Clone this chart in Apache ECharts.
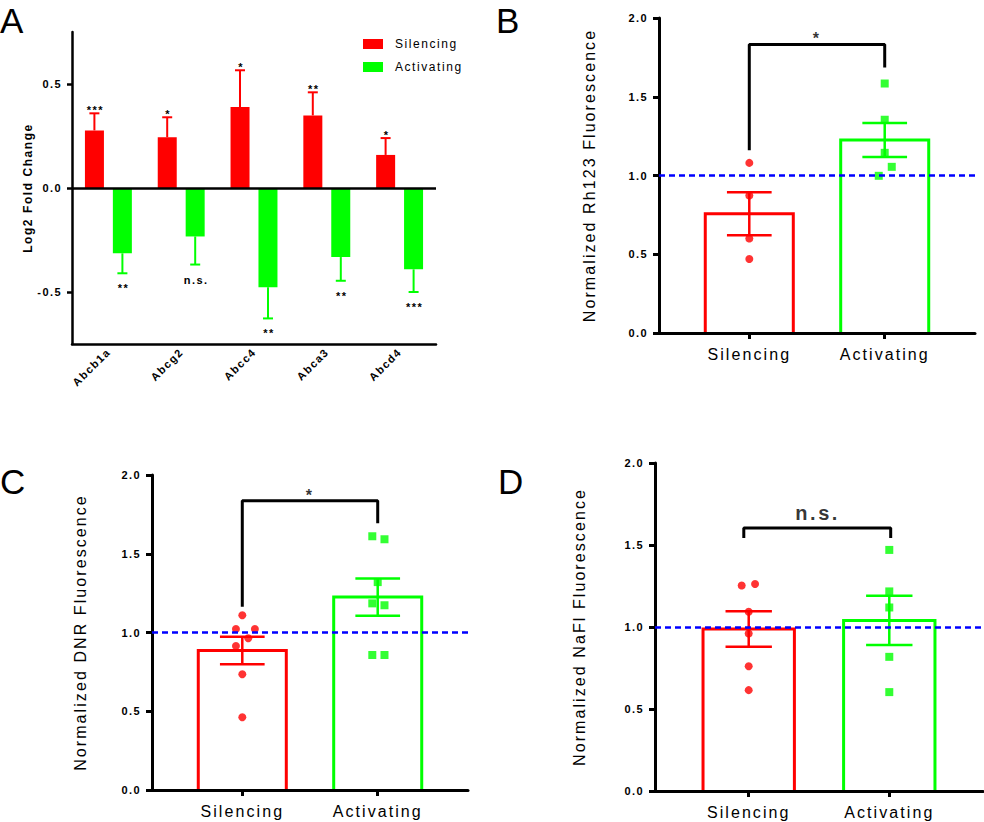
<!DOCTYPE html>
<html>
<head>
<meta charset="utf-8">
<script src="https://cdn.jsdelivr.net/npm/echarts@6/dist/echarts.min.js"></script>
<style>
  html, body { margin: 0; padding: 0; background: #fff; }
  #chart { width: 984px; height: 822px; }
  #chart svg text { letter-spacing: 0.13em; }
</style>
</head>
<body>
<div id="chart"></div>
<script>
// panel A: log2 fold change per transporter
const genes = ['Abcb1a', 'Abcg2', 'Abcc4', 'Abca3', 'Abcd4'];
const silencingFold = [0.277, 0.244, 0.389, 0.349, 0.159];
const silencingFoldErr = [0.359, 0.340, 0.566, 0.460, 0.240];
const activatingFold = [-0.314, -0.233, -0.477, -0.332, -0.391];
const activatingFoldErr = [-0.410, -0.368, -0.627, -0.446, -0.500];
const silencingSig = ['***', '*', '*', '**', '*'];
const activatingSig = ['**', 'n.s.', '**', '**', '***'];
const foldTicks = [-0.5, 0, 0.5];

// panels B-D: groups sit at x = 1 and x = 2
const groups = ['Silencing', 'Activating'];

const rhMean = [0.757, 1.225];
const rhSem = [0.136, 0.108];
const rhSilencing = [[1, 1.08], [1, 0.873], [1, 0.60], [1, 0.47]];
const rhActivating = [[2, 1.584], [2, 1.354], [2, 1.144], [2.052, 1.055], [1.956, 0.998]];
const rhBracket = [[1, 1.16], [1, 1.831], [2, 1.831], [2, 1.685]];
const rhSig = [[1.5, 1.867, '*']];

const dnrMean = [0.886, 1.225];
const dnrSem = [0.087, 0.118];
const dnrSilencing = [[1, 1.11], [0.953, 1.022], [1.093, 1.022], [1.044, 0.963], [0.953, 0.914], [1, 0.735], [1, 0.462]];
const dnrActivating = [[1.96, 1.611], [2.05, 1.592], [2, 1.32], [1.96, 1.185], [2.05, 1.173], [1.96, 0.857], [2.05, 0.857]];
const dnrBracket = [[1, 1.164], [1, 1.837], [2, 1.837], [2, 1.693]];
const dnrSig = [[1.5, 1.873, '*']];

const naflMean = [0.988, 1.04];
const naflSem = [0.108, 0.15];
const naflSilencing = [[0.95, 1.253], [1.045, 1.262], [1, 1.093], [1, 0.96], [1, 0.761], [1, 0.615]];
const naflActivating = [[2, 1.47], [2, 1.217], [2, 1.119], [2, 0.818], [2, 0.603]];
const naflBracket = [[0.965, 1.543], [0.965, 1.604], [2.01, 1.604], [2.01, 1.543]];
const naflSig = [[1.49, 1.697, 'n.s.']];

const RED = '#ff0000';
const GREEN = '#00ff00';
const FONT = 'Liberation Sans';

const chart = echarts.init(document.getElementById('chart'), null, { renderer: 'svg' });

function foldErr(dx, sig, up) {
  return function (params, api) {
    const i = api.value(0);
    const base = api.coord([i, api.value(1)]);
    const end = api.coord([i, api.value(2)]);
    const x = base[0] + dx;
    const color = api.visual('color');
    return {
      type: 'group',
      children: [
        { type: 'line', shape: { x1: x, y1: base[1], x2: x, y2: end[1] }, style: { stroke: color, lineWidth: 2 } },
        { type: 'line', shape: { x1: x - 5, y1: end[1], x2: x + 5, y2: end[1] }, style: { stroke: color, lineWidth: 2 } },
        {
          type: 'text', x: x + 1, y: up ? end[1] - 3 : end[1] + 15,
          style: { text: sig[params.dataIndex], align: 'center', verticalAlign: 'middle', fill: '#000', font: 'bold 11px "' + FONT + '"' }
        }
      ]
    };
  };
}

function outlineBar(params, api) {
  const top = api.coord([api.value(0), api.value(1)]);
  const bot = api.coord([api.value(0), 0]);
  const hw = api.size([0.65, 0])[0] / 2;
  return {
    type: 'polyline',
    shape: { points: [[top[0] - hw, bot[1]], [top[0] - hw, top[1]], [top[0] + hw, top[1]], [top[0] + hw, bot[1]]] },
    style: { stroke: api.visual('color'), fill: 'none', lineWidth: 3 }
  };
}

function semBar(params, api) {
  const m = api.value(1), s = api.value(2);
  const hi = api.coord([api.value(0), m + s]);
  const lo = api.coord([api.value(0), m - s]);
  const hw = api.size([0.165, 0])[0];
  const st = { stroke: api.visual('color'), lineWidth: 2.5 };
  return {
    type: 'group',
    children: [
      { type: 'line', shape: { x1: hi[0], y1: hi[1], x2: lo[0], y2: lo[1] }, style: st },
      { type: 'line', shape: { x1: hi[0] - hw, y1: hi[1], x2: hi[0] + hw, y2: hi[1] }, style: st },
      { type: 'line', shape: { x1: lo[0] - hw, y1: lo[1], x2: lo[0] + hw, y2: lo[1] }, style: st }
    ]
  };
}

const panels = [
  { grid: { left: 659, top: 18, width: 316, height: 315 }, name: 'Normalized Rh123 Fluorescence', gap: 62,
    mean: rhMean, sem: rhSem, sil: rhSilencing, act: rhActivating, bracket: rhBracket, sig: rhSig, sigSize: 16 },
  { grid: { left: 152, top: 475, width: 316, height: 315 }, name: 'Normalized DNR Fluorescence', gap: 64,
    mean: dnrMean, sem: dnrSem, sil: dnrSilencing, act: dnrActivating, bracket: dnrBracket, sig: dnrSig, sigSize: 16 },
  { grid: { left: 655, top: 463, width: 328, height: 328 }, name: 'Normalized NaFl Fluorescence', gap: 68,
    mean: naflMean, sem: naflSem, sil: naflSilencing, act: naflActivating, bracket: naflBracket, sig: naflSig, sigSize: 20 }
];

const axisLine = { lineStyle: { color: '#000', width: 3 } };

const grids = [{ left: 72, top: 32, width: 364, height: 312 }].concat(panels.map(p => p.grid));

const xAxes = [{
  type: 'category', gridIndex: 0, data: genes, z: 5,
  axisLine: { onZero: false, lineStyle: { color: '#000', width: 2.5 } },
  axisTick: { alignWithLabel: true, length: 5, lineStyle: { color: '#000', width: 2.5 } },
  axisLabel: { interval: 0, rotate: 45, margin: 6, color: '#000', fontWeight: 'bold', fontSize: 11, fontFamily: FONT }
}];
const yAxes = [{
  type: 'value', gridIndex: 0, min: -0.75, max: 0.75,
  name: 'Log2 Fold Change', nameLocation: 'middle', nameGap: 38,
  nameTextStyle: { color: '#000', fontWeight: 'bold', fontSize: 12, fontFamily: FONT },
  axisLine: { show: true, lineStyle: { color: '#000', width: 2.5 } },
  axisTick: { show: true, length: 5, customValues: foldTicks, lineStyle: { color: '#000', width: 2.5 } },
  axisLabel: { customValues: foldTicks, margin: 10, color: '#000', fontWeight: 'bold', fontSize: 11, fontFamily: FONT,
    formatter: v => v.toFixed(1) },
  splitLine: { show: false }
}];

const series = [
  { name: 'Silencing', type: 'bar', xAxisIndex: 0, yAxisIndex: 0, data: silencingFold, barWidth: 19, barGap: '47%',
    itemStyle: { color: RED },
    markLine: { silent: true, symbol: ['none', 'none'], label: { show: false },
      lineStyle: { color: '#000', type: 'solid', width: 2.5 }, data: [{ yAxis: 0 }] } },
  { name: 'Activating', type: 'bar', xAxisIndex: 0, yAxisIndex: 0, data: activatingFold, barWidth: 19,
    itemStyle: { color: GREEN } },
  { type: 'custom', xAxisIndex: 0, yAxisIndex: 0, itemStyle: { color: RED },
    data: genes.map((g, i) => [i, silencingFold[i], silencingFoldErr[i]]),
    renderItem: foldErr(-14, silencingSig, true) },
  { type: 'custom', xAxisIndex: 0, yAxisIndex: 0, itemStyle: { color: GREEN },
    data: genes.map((g, i) => [i, activatingFold[i], activatingFoldErr[i]]),
    renderItem: foldErr(14, activatingSig, false) }
];

panels.forEach((p, k) => {
  const idx = k + 1;
  xAxes.push({
    type: 'value', gridIndex: idx, min: 1 / 3, max: 8 / 3, z: 5,
    axisLine: axisLine,
    axisTick: { show: true, length: 6, customValues: [1, 2], lineStyle: { color: '#000', width: 3 } },
    axisLabel: { customValues: [1, 2], margin: 13, color: '#000', fontSize: 16, fontFamily: FONT,
      formatter: v => groups[Math.round(v) - 1] },
    splitLine: { show: false }
  });
  yAxes.push({
    type: 'value', gridIndex: idx, min: 0, max: 2, interval: 0.5,
    name: p.name, nameLocation: 'middle', nameGap: p.gap,
    nameTextStyle: { color: '#000', fontSize: 16, fontFamily: FONT },
    axisLine: { show: true, lineStyle: { color: '#000', width: 3 } },
    axisTick: { show: true, length: 6, lineStyle: { color: '#000', width: 3 } },
    axisLabel: { margin: 11, color: '#000', fontWeight: 'bold', fontSize: 11, fontFamily: FONT,
      formatter: v => v.toFixed(1) },
    splitLine: { show: false }
  });
  const ax = { xAxisIndex: idx, yAxisIndex: idx };
  const colored = (i) => ({ itemStyle: { color: i === 0 ? RED : GREEN } });
  series.push(
    Object.assign({ type: 'custom', renderItem: outlineBar,
      data: groups.map((g, i) => Object.assign({ value: [i + 1, p.mean[i], p.sem[i]] }, colored(i))) }, ax),
    Object.assign({ type: 'scatter', symbol: 'circle', symbolSize: 8, data: p.sil, itemStyle: { color: RED },
      markLine: { silent: true, symbol: ['none', 'none'], label: { show: false },
        lineStyle: { color: '#0000ff', type: [6, 4], width: 2.5 }, data: [{ yAxis: 1 }] } }, ax),
    Object.assign({ type: 'scatter', symbol: 'rect', symbolSize: 8, data: p.act, itemStyle: { color: GREEN } }, ax),
    Object.assign({ type: 'custom', renderItem: semBar,
      data: groups.map((g, i) => Object.assign({ value: [i + 1, p.mean[i], p.sem[i]] }, colored(i))) }, ax),
    Object.assign({ type: 'line', data: p.bracket, symbol: 'none', lineStyle: { color: '#000', width: 3 } }, ax),
    Object.assign({ type: 'scatter', data: p.sig, symbolSize: 0,
      label: { show: true, position: 'inside', formatter: d => d.value[2], color: '#000',
        fontWeight: 'bold', fontSize: p.sigSize, fontFamily: FONT } }, ax)
  );
});

const letterStyle = { color: '#000', fontSize: 35, lineHeight: 40, fontWeight: 'normal', fontFamily: FONT };

chart.setOption({
  animation: false,
  backgroundColor: '#fff',
  title: [
    { text: 'A', left: 0, top: 0, padding: 0, textStyle: letterStyle },
    { text: 'B', left: 496, top: 0, padding: 0, textStyle: letterStyle },
    { text: 'C', left: 0, top: 461, padding: 0, textStyle: letterStyle },
    { text: 'D', left: 498, top: 461, padding: 0, textStyle: letterStyle }
  ],
  legend: {
    data: ['Silencing', 'Activating'], orient: 'vertical', left: 363, top: 38, padding: 0,
    itemWidth: 20, itemHeight: 10, itemGap: 11, icon: 'rect',
    textStyle: { color: '#000', fontSize: 12, fontFamily: FONT, padding: [0, 0, 0, 7] }
  },
  grid: grids,
  xAxis: xAxes,
  yAxis: yAxes,
  series: series
});
</script>
</body>
</html>
